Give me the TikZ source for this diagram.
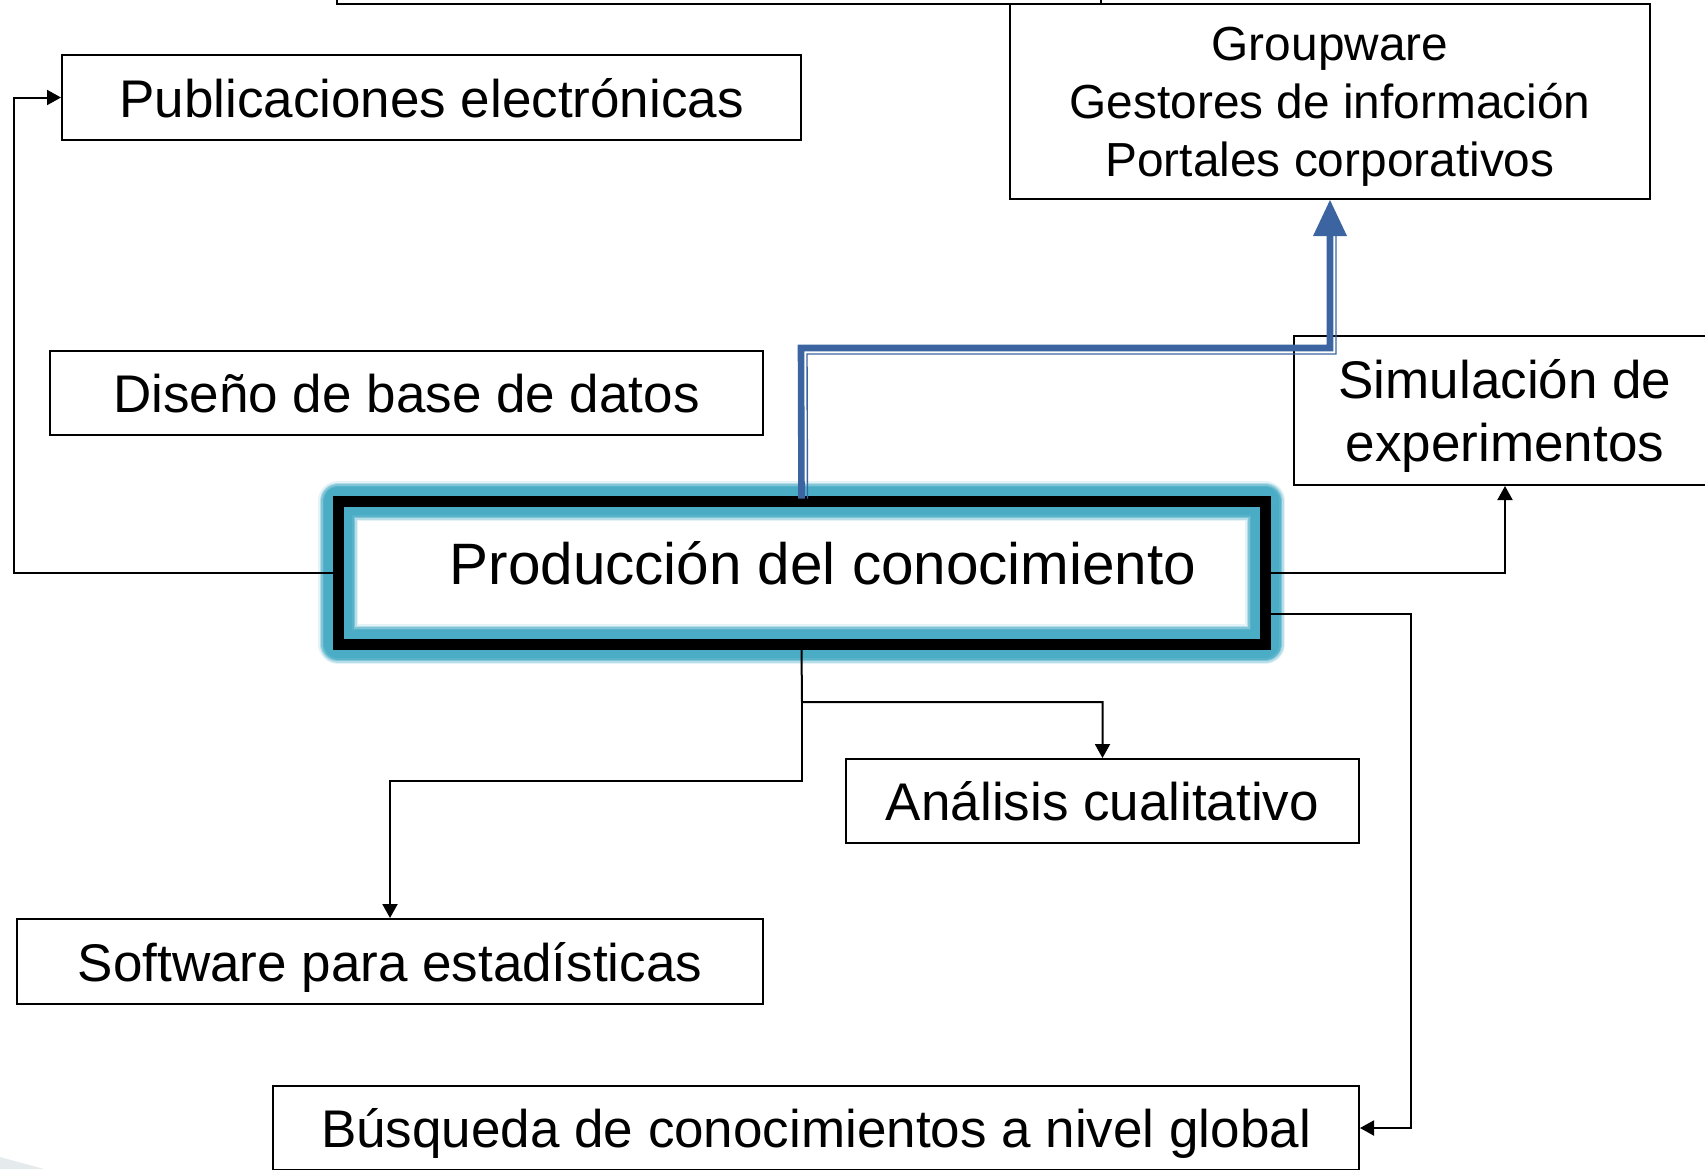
\documentclass[tikz,border=0pt]{standalone}
\usepackage{fontspec}
\setmainfont{Liberation Sans}
\usetikzlibrary{arrows.meta,calc}
\definecolor{glowc}{HTML}{4BACC6}
\definecolor{bluec}{RGB}{60,100,160}
\begin{document}
\begin{tikzpicture}[x=0.5pt,y=-0.5pt,
  box/.style={draw,line width=1pt,inner sep=0pt,align=center,font=\fontsize{26.5}{31.5}\selectfont},
  onebox/.style={box,text height=19.5pt,text depth=0pt},
  multibox/.style={box,text depth=0pt},
  conn/.style={line width=1pt,-{Triangle[length=7pt,width=7.5pt]}},
  bigline/.style={line width=3.3pt,bluec},
  thinline/.style={line width=0.7pt,bluec},
  glowline/.style={glowc,line join=round}]
\useasboundingbox (0,0) rectangle (1705,1169);

% partially visible upper box
\node[box,minimum width=382pt,minimum height=52pt] (up) at (719,-48) {};
% boxes
\node[multibox,minimum width=320pt,minimum height=97.5pt,font=\fontsize{23.9}{29}\selectfont] (grp) at (1330,101.5)
  {Groupware\\Gestores de información\\Portales corporativos};
\node[onebox,minimum width=369.5pt,minimum height=42.5pt] (pub) at (431.5,97.5) {Publicaciones electrónicas};
\node[onebox,minimum width=356.5pt,minimum height=42pt] (dis) at (406.5,393) {Diseño de base de datos};
\node[multibox,minimum width=211pt,minimum height=74.5pt] (sim) at (1505,410.5) {Simulación de\\experimentos};
\node[onebox,minimum width=256.5pt,minimum height=42pt] (ana) at (1102.5,801) {Análisis cualitativo};
\node[onebox,minimum width=373pt,minimum height=42.5pt] (soft) at (390,961.5) {Software para estadísticas};
\node[onebox,minimum width=543pt,minimum height=42pt] (bus) at (816,1128) {Búsqueda de conocimientos a nivel global};

% central node with glow
\draw[glowline,line width=20pt,opacity=0.15] (338,501) rectangle (1265,644);
\draw[glowline,line width=18.5pt,opacity=0.3] (338,501) rectangle (1265,644);
\draw[glowline,line width=17pt,opacity=0.5] (338,501) rectangle (1265,644);
\draw[glowline,line width=15.5pt,opacity=0.75] (338,501) rectangle (1265,644);
\draw[glowline,line width=14pt] (338,501) rectangle (1265,644);
\node[draw=black,line width=5.5pt,inner sep=0pt,minimum width=463.5pt,minimum height=71.5pt] (prod) at (801.5,572.5) {};
\node[font=\fontsize{29.2}{35}\selectfont] (ptext) at (823,563) {Producción del conocimiento};

% thin connectors
\draw[conn] (prod.west) -- (14,572.5) |- (pub.west);
\draw[conn] (prod.east) -| (sim.south);
\draw[conn] ($(prod.east)+(0,41)$) -- (1411,613.5) |- (bus.east);
\coordinate (j1) at (802,702);
\draw[conn] (prod.south) -- (j1) -| (ana.north);
\draw[conn] (j1) -- (802,781) -| (soft.north);

% blue connector
\coordinate (abase) at ($(grp.south)+(0,36)$);
\draw[thinline] ($(prod.north)+(6,3)$) -- (807,354) -- (1336,354) -- ($(abase)+(6,0)$);
\draw[bigline] ($(prod.north)+(0,3)$) -- (801,348) -| (abase);
\fill[bluec] (grp.south) -- ($(abase)+(-17,0)$) -- ($(abase)+(17,0)$) -- cycle;

% corner decoration
\fill[cyan!15!gray!20] (0,1157) -- (44,1169) -- (0,1169) -- cycle;
\end{tikzpicture}
\end{document}
